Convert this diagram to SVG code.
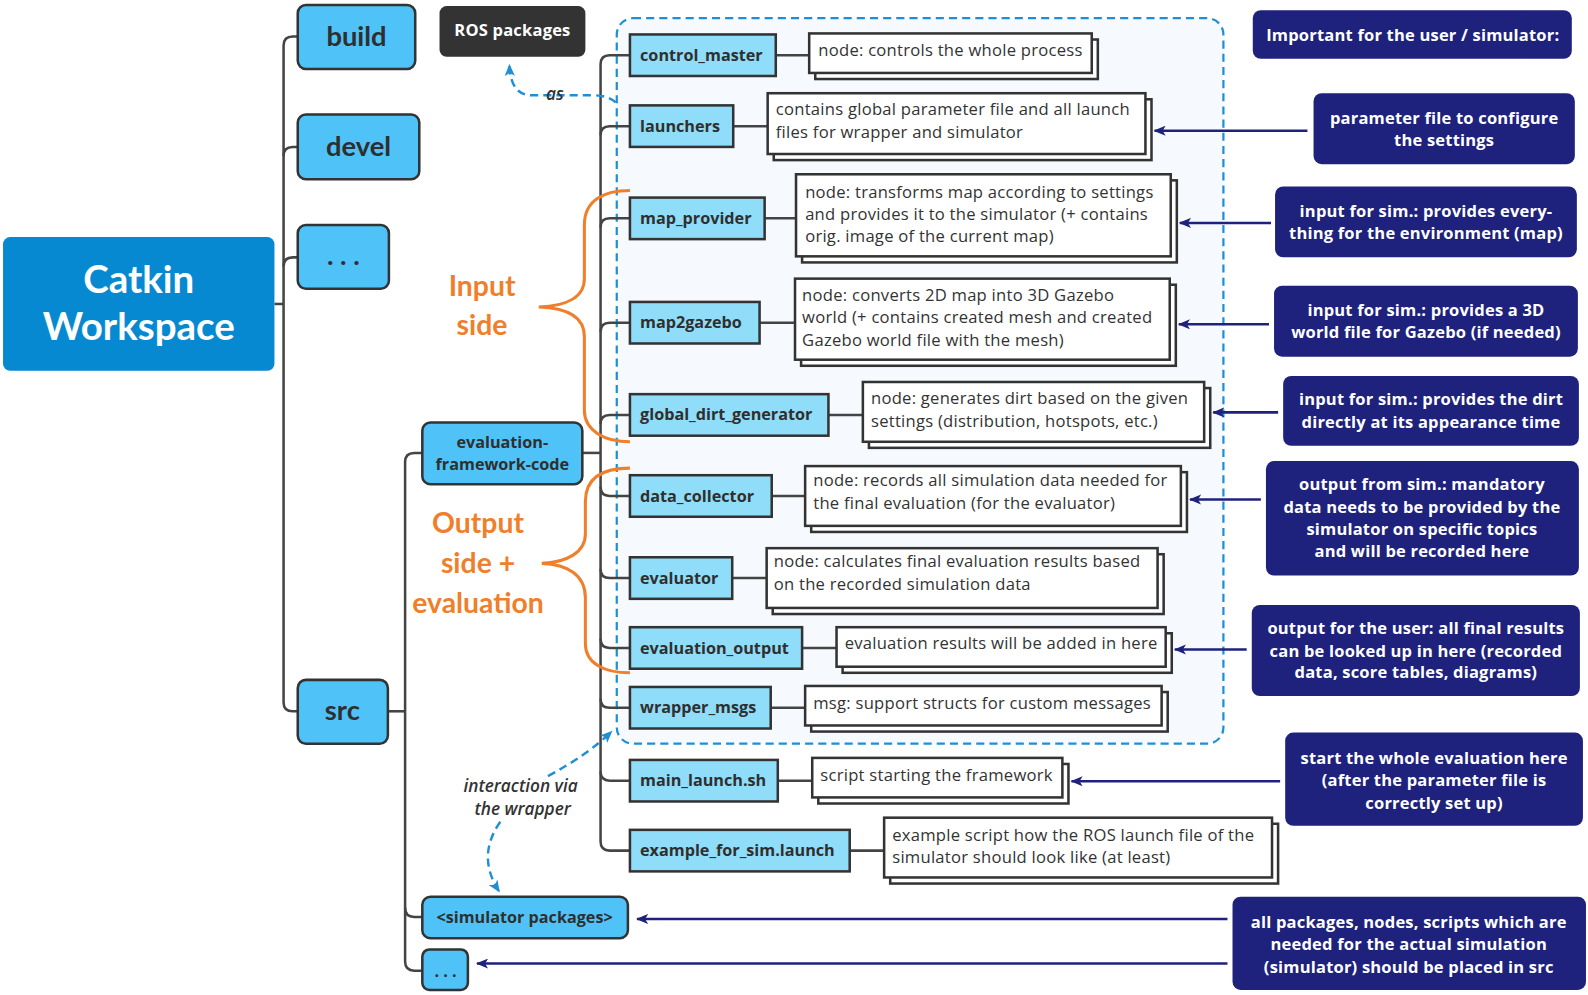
<svg xmlns="http://www.w3.org/2000/svg" width="1588" height="995" viewBox="0 0 1588 995">
<defs>
<style>
.tree{fill:none;stroke:#444;stroke-width:2.5}
.rn{fill:#4FC3F7;stroke:#333;stroke-width:2.5}
.cn{fill:#8FDDF8;stroke:#333;stroke-width:2.5}
.nt{fill:#fff;stroke:#333;stroke-width:2.5}
.nv{fill:#1E227D}
.lb{font-family:"Open Sans",Lato,sans-serif;font-weight:700;fill:#2f2f2f;font-size:16px}
.big{font-family:Lato,"Open Sans",sans-serif;font-weight:700;fill:#2f2f2f;font-size:27px;text-anchor:middle}
.tx{font-family:"Open Sans",Lato,sans-serif;fill:#333;font-size:16.4px;letter-spacing:0.25px}
.wt{font-family:"Open Sans",Lato,sans-serif;font-weight:700;fill:#fff;font-size:16.3px;letter-spacing:0.2px;text-anchor:middle}
.or{font-family:Lato,"Open Sans",sans-serif;font-weight:700;fill:#F07F2C;font-size:28px;text-anchor:middle}
.it{font-family:"Open Sans",Lato,sans-serif;font-style:italic;font-weight:600;fill:#333;font-size:17px;text-anchor:middle}
.arr{fill:none;stroke:#1E227D;stroke-width:2.5;marker-end:url(#ah)}
.bd{fill:none;stroke:#1E8FD5;stroke-width:2.4;stroke-dasharray:8 5;marker-end:url(#bh)}
.brace{fill:none;stroke:#F07F2C;stroke-width:3}
</style>
<marker id="ah" viewBox="0 0 12 10" refX="11" refY="5" markerWidth="12" markerHeight="10" markerUnits="userSpaceOnUse" orient="auto"><path d="M0 0 L12 5 L0 10 L3 5 Z" fill="#1E227D"/></marker>
<marker id="bh" viewBox="0 0 12 10" refX="11" refY="5" markerWidth="12" markerHeight="10" markerUnits="userSpaceOnUse" orient="auto"><path d="M0 0 L12 5 L0 10 L3 5 Z" fill="#1E8FD5"/></marker>
</defs>
<rect width="1588" height="995" fill="#fff"/>
<g transform="scale(1.012755,1.013238)">
<g id="container">
<rect x="609" y="18" width="599" height="716" rx="16" fill="#F6FAFE" stroke="#1E8FD5" stroke-width="2.2" stroke-dasharray="8 5"/>
</g>
<g id="connectors">
<path class="tree" d="M271 300 H280"/>
<path class="tree" d="M294 36 H289 Q280 36 280 45 V693 Q280 702 289 702 H294"/>
<path class="tree" d="M280 154 Q280 145 289 145 H294"/>
<path class="tree" d="M280 263 Q280 254 289 254 H294"/>
<path class="tree" d="M383 702 H400"/>
<path class="tree" d="M417 447 H409 Q400 447 400 456 V949 Q400 958 409 958 H417"/>
<path class="tree" d="M400 896 Q400 905 409 905 H417"/>
<path class="tree" d="M575 447 H593"/>
<path class="tree" d="M622 54.5 H602 Q593 54.5 593 63.5 V830.5 Q593 839.5 602 839.5 H622"/>
<path class="tree" d="M593 133.5 Q593 124.5 602 124.5 H622"/>
<path class="tree" d="M593 224.5 Q593 215.5 602 215.5 H622"/>
<path class="tree" d="M593 327.5 Q593 318.5 602 318.5 H622"/>
<path class="tree" d="M593 418.5 Q593 409.5 602 409.5 H622"/>
<path class="tree" d="M593 480.5 Q593 489.5 602 489.5 H622"/>
<path class="tree" d="M593 561.5 Q593 570.5 602 570.5 H622"/>
<path class="tree" d="M593 630.5 Q593 639.5 602 639.5 H622"/>
<path class="tree" d="M593 689.5 Q593 698.5 602 698.5 H622"/>
<path class="tree" d="M593 761.5 Q593 770.5 602 770.5 H622"/>
<path class="tree" d="M766 54.5 H799"/>
<path class="tree" d="M724 124.5 H758"/>
<path class="tree" d="M755 215.5 H786"/>
<path class="tree" d="M750 318.5 H785"/>
<path class="tree" d="M818 409.5 H852"/>
<path class="tree" d="M762 489.5 H795"/>
<path class="tree" d="M723 570.5 H757"/>
<path class="tree" d="M792 639.5 H826"/>
<path class="tree" d="M761 698.5 H795"/>
<path class="tree" d="M768 770.5 H802"/>
<path class="tree" d="M839 839.5 H873"/>
<path class="arr" d="M1291 129 H1140"/>
<path class="arr" d="M1255 220 H1165"/>
<path class="arr" d="M1253 320 H1164"/>
<path class="arr" d="M1262 407 H1198"/>
<path class="arr" d="M1245 493 H1175"/>
<path class="arr" d="M1231 641 H1160"/>
<path class="arr" d="M1264 771 H1058"/>
<path class="arr" d="M1212 907 H629"/>
<path class="arr" d="M1212 951 H471"/>
<path class="bd" d="M608 101 Q600 94 585 94 H525 Q504 94 503 64"/>
<path class="bd" d="M541 766 Q580 745 604 722"/>
<path class="bd" d="M494 811 Q470 845 493 880"/>
<text class="it" x="548" y="99">as</text>
<text class="it" x="514" y="782">interaction via</text>
<text class="it" x="516" y="804">the wrapper</text>
</g>
<g id="catkin"><rect x="3" y="234" width="268" height="132" rx="7" fill="#0789D2"/>
<text x="137" y="289" text-anchor="middle" font-family="Lato,'Open Sans',sans-serif" font-weight="700" font-size="38" fill="#fff">Catkin</text>
<text x="137" y="336" text-anchor="middle" font-family="Lato,'Open Sans',sans-serif" font-weight="700" font-size="38" fill="#fff">Workspace</text></g>
<g id="build"><rect class="rn" x="294" y="5" width="116" height="63" rx="8"/><text class="big" x="352" y="45">build</text></g>
<g id="devel"><rect class="rn" x="294" y="113" width="120" height="64" rx="8"/><text class="big" x="354" y="154">devel</text></g>
<g id="dots1"><rect class="rn" x="294" y="222" width="90" height="63" rx="8"/><text class="big" x="339" y="262">. . .</text></g>
<g id="src"><rect class="rn" x="294" y="671" width="89" height="63" rx="8"/><text class="big" x="338" y="711">src</text></g>
<g id="ros"><rect x="434" y="6" width="144" height="50" rx="7" fill="#333"/><text class="wt" x="506" y="36" font-size="15.5">ROS packages</text></g>
<g id="efc"><rect class="rn" x="417" y="417" width="158" height="61" rx="8"/><text class="lb" x="496" y="442" text-anchor="middle">evaluation-</text><text class="lb" x="496" y="464" text-anchor="middle">framework-code</text></g>
<g id="simpkg"><rect class="rn" x="417" y="885" width="203" height="41" rx="8"/><text class="lb" x="518" y="911" text-anchor="middle">&lt;simulator packages&gt;</text></g>
<g id="dots2"><rect class="rn" x="417" y="937" width="45" height="40" rx="7"/><text class="lb" x="440" y="964" text-anchor="middle" font-weight="400" font-size="14">. . .</text></g>

<g id="control_master"><rect class="cn" x="622" y="34" width="144" height="41"/><text class="lb" x="632" y="60">control_master</text></g>
<g id="launchers"><rect class="cn" x="622" y="104" width="102" height="41"/><text class="lb" x="632" y="130">launchers</text></g>
<g id="map_provider"><rect class="cn" x="622" y="195" width="133" height="41"/><text class="lb" x="632" y="221">map_provider</text></g>
<g id="map2gazebo"><rect class="cn" x="622" y="298" width="128" height="41"/><text class="lb" x="632" y="324">map2gazebo</text></g>
<g id="global_dirt_generator"><rect class="cn" x="622" y="389" width="196" height="41"/><text class="lb" x="632" y="415">global_dirt_generator</text></g>
<g id="data_collector"><rect class="cn" x="622" y="469" width="140" height="41"/><text class="lb" x="632" y="495">data_collector</text></g>
<g id="evaluator"><rect class="cn" x="622" y="550" width="101" height="41"/><text class="lb" x="632" y="576">evaluator</text></g>
<g id="evaluation_output"><rect class="cn" x="622" y="619" width="170" height="41"/><text class="lb" x="632" y="645">evaluation_output</text></g>
<g id="wrapper_msgs"><rect class="cn" x="622" y="678" width="139" height="41"/><text class="lb" x="632" y="704">wrapper_msgs</text></g>
<g id="main_launch"><rect class="cn" x="622" y="750" width="146" height="41"/><text class="lb" x="632" y="776">main_launch.sh</text></g>
<g id="example_launch"><rect class="cn" x="622" y="819" width="217" height="41"/><text class="lb" x="632" y="845">example_for_sim.launch</text></g>

<g id="note_cm"><rect class="nt" x="805" y="39" width="279" height="39"/><rect class="nt" x="799" y="33" width="279" height="39"/><text class="tx" x="808" y="55">node: controls the whole process</text></g>
<g id="note_la"><rect class="nt" x="764" y="98" width="373" height="60"/><rect class="nt" x="758" y="92" width="373" height="60"/><text class="tx" x="766" y="114">contains global parameter file and all launch</text><text class="tx" x="766" y="136">files for wrapper and simulator</text></g>
<g id="note_mp"><rect class="nt" x="792" y="178" width="370" height="81"/><rect class="nt" x="786" y="172" width="370" height="81"/><text class="tx" x="795" y="195">node: transforms map according to settings</text><text class="tx" x="795" y="217">and provides it to the simulator (+ contains</text><text class="tx" x="795" y="239">orig. image of the current map)</text></g>
<g id="note_mg"><rect class="nt" x="791" y="281" width="370" height="80"/><rect class="nt" x="785" y="275" width="370" height="80"/><text class="tx" x="792" y="297">node: converts 2D map into 3D Gazebo</text><text class="tx" x="792" y="319">world (+ contains created mesh and created</text><text class="tx" x="792" y="341">Gazebo world file with the mesh)</text></g>
<g id="note_gd"><rect class="nt" x="858" y="383" width="337" height="59"/><rect class="nt" x="852" y="377" width="337" height="59"/><text class="tx" x="860" y="399">node: generates dirt based on the given</text><text class="tx" x="860" y="421">settings (distribution, hotspots, etc.)</text></g>
<g id="note_dc"><rect class="nt" x="801" y="466" width="371" height="59"/><rect class="nt" x="795" y="460" width="371" height="59"/><text class="tx" x="803" y="480">node: records all simulation data needed for</text><text class="tx" x="803" y="502">the final evaluation (for the evaluator)</text></g>
<g id="note_ev"><rect class="nt" x="763" y="547" width="386" height="59"/><rect class="nt" x="757" y="541" width="386" height="59"/><text class="tx" x="764" y="560">node: calculates final evaluation results based</text><text class="tx" x="764" y="582">on the recorded simulation data</text></g>
<g id="note_eo"><rect class="nt" x="832" y="625" width="325" height="39"/><rect class="nt" x="826" y="619" width="325" height="39"/><text class="tx" x="834" y="641">evaluation results will be added in here</text></g>
<g id="note_wm"><rect class="nt" x="801" y="683" width="352" height="39"/><rect class="nt" x="795" y="677" width="352" height="39"/><text class="tx" x="803" y="700">msg: support structs for custom messages</text></g>
<g id="note_ml"><rect class="nt" x="808" y="754" width="247" height="39"/><rect class="nt" x="802" y="748" width="247" height="39"/><text class="tx" x="810" y="771">script starting the framework</text></g>
<g id="note_ex"><rect class="nt" x="879" y="813" width="383" height="59"/><rect class="nt" x="873" y="807" width="383" height="59"/><text class="tx" x="881" y="830">example script how the ROS launch file of the</text><text class="tx" x="881" y="852">simulator should look like (at least)</text></g>

<g id="brace_in"><path class="brace" d="M622 188 C597 188 577 197 577 222 L577 275 C577 293 560 302 532 303 C560 304 577 313 577 332 L577 405 C577 425 597 436 622 436"/><text class="or" x="476" y="292">Input</text><text class="or" x="476" y="331">side</text></g>
<g id="brace_out"><path class="brace" d="M622 462 C597 462 578 470 578 495 L578 527 C578 545 560 555 535 556 C560 557 578 567 578 590 L578 635 C578 655 597 664 622 664"/><text class="or" x="472" y="526">Output</text><text class="or" x="472" y="566">side +</text><text class="or" x="472" y="605">evaluation</text></g>

<g id="n_important"><rect class="nv" x="1237" y="10" width="315" height="48" rx="8"/><text class="wt" x="1395" y="40">Important for the user / simulator:</text></g>
<g id="n_param"><rect class="nv" x="1297" y="92" width="258" height="70" rx="8"/><text class="wt" x="1426" y="122">parameter file to configure</text><text class="wt" x="1426" y="144">the settings</text></g>
<g id="n_map"><rect class="nv" x="1259" y="184" width="298" height="70" rx="8"/><text class="wt" x="1408" y="214">input for sim.: provides every-</text><text class="wt" x="1408" y="236">thing for the environment (map)</text></g>
<g id="n_3d"><rect class="nv" x="1258" y="282" width="300" height="70" rx="8"/><text class="wt" x="1408" y="312">input for sim.: provides a 3D</text><text class="wt" x="1408" y="334">world file for Gazebo (if needed)</text></g>
<g id="n_dirt"><rect class="nv" x="1267" y="371" width="292" height="69" rx="8"/><text class="wt" x="1413" y="400">input for sim.: provides the dirt</text><text class="wt" x="1413" y="422">directly at its appearance time</text></g>
<g id="n_out"><rect class="nv" x="1250" y="455" width="309" height="113" rx="8"/><text class="wt" x="1404" y="484">output from sim.: mandatory</text><text class="wt" x="1404" y="506">data needs to be provided by the</text><text class="wt" x="1404" y="528">simulator on specific topics</text><text class="wt" x="1404" y="550">and will be recorded here</text></g>
<g id="n_user"><rect class="nv" x="1236" y="597" width="324" height="90" rx="8"/><text class="wt" x="1398" y="626">output for the user: all final results</text><text class="wt" x="1398" y="648">can be looked up in here (recorded</text><text class="wt" x="1398" y="669">data, score tables, diagrams)</text></g>
<g id="n_start"><rect class="nv" x="1269" y="723" width="294" height="92" rx="8"/><text class="wt" x="1416" y="754">start the whole evaluation here</text><text class="wt" x="1416" y="776">(after the parameter file is</text><text class="wt" x="1416" y="798">correctly set up)</text></g>
<g id="n_all"><rect class="nv" x="1217" y="885" width="349" height="92" rx="8"/><text class="wt" x="1391" y="916">all packages, nodes, scripts which are</text><text class="wt" x="1391" y="938">needed for the actual simulation</text><text class="wt" x="1391" y="960">(simulator) should be placed in src</text></g>
</g>
</svg>
